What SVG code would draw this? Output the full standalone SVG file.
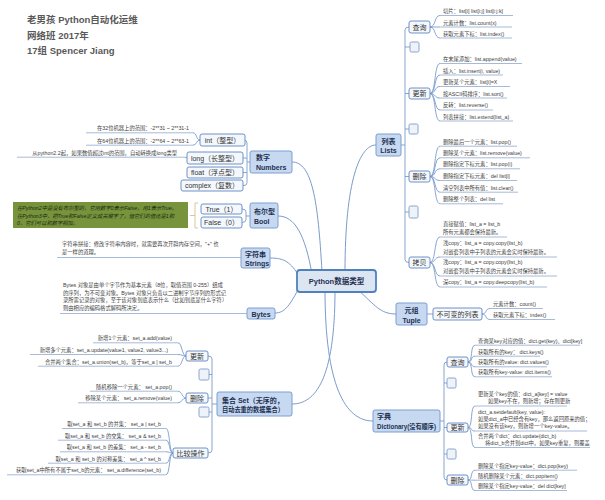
<svg xmlns="http://www.w3.org/2000/svg" width="605" height="500" viewBox="0 0 605 500">
<style>
text{font-family:"Liberation Sans","Noto Sans CJK SC",sans-serif}
.ttl{font-size:9.5px;font-weight:bold;fill:#595959}
.lf{font-size:5.3px;fill:#404040}
.ul{stroke:#8fa9d0;stroke-width:0.8;fill:none}
.cn{stroke:#7b9bcb;stroke-width:0.9;fill:none}
.mc{stroke:#7b9bcb;stroke-width:1;fill:none}
.mr{fill:#c6d9f0;stroke:#7d9fd0;stroke-width:1}
.mt{font-size:7px;font-weight:bold;fill:#1f3050}
.sr{fill:#f4f8fd;stroke:#5f87c2;stroke-width:0.9}
.st{font-size:7px;fill:#333}
.er{fill:#eef3fa;stroke:#7f9cc6;stroke-width:0.9}
.gt{font-size:5.3px;font-style:italic;fill:#1a2a10}
</style>

<g id="title">
<text class="ttl" x="27" y="23">老男孩 Python自动化运维</text>
<text class="ttl" x="27" y="38.5">网络班  2017年</text>
<text class="ttl" x="27" y="54">17组 Spencer Jiang</text>
</g>

<g id="connectors">
<path class="mc" d="M322,272 C318,200 312,162 292,162"/>
<path class="mc" d="M312,274 C305,235 295,216 278,216"/>
<path class="mc" d="M300,277 C290,262 285,258 270,258"/>
<path class="mc" d="M300,286 C290,305 285,313 275,313"/>
<path class="mc" d="M335,290 C335,380 315,404 292,404"/>
<path class="mc" d="M345,272 C345,180 360,145 376,145"/>
<path class="mc" d="M358,290 C375,305 380,314 396,314"/>
<path class="mc" d="M325,290 C325,385 345,421 373,421"/>
<path class="cn" d="M250,162 H247 M245,140 H244 Q247,140 247,143 V182.5 Q247,185.5 244,185.5 H243 M247,158 H243 M247,172.5 H243"/>
<path class="cn" d="M250,216 H246 M242,209 Q246,209 246,212 V219.5 Q246,222.5 242,222.5"/>
<path class="cn" d="M217,404 H212 M208,356 Q212,356 212,359 V450 Q212,453 208,453 M212,374.5 H209 M212,398 H208 M212,412 H209"/>
<path class="cn" d="M401,145 H405 M409,27 Q405,27 405,30 V259.5 Q405,262.5 409,262.5 M405,47 H410 M405,93.5 H409 M405,129 H409 M405,176.5 H409 M405,212 H409"/>
<path class="cn" d="M440,421 H444 M447,362 Q444,362 444,365 V477 Q444,480 447,480 M444,383 H447 M444,427.5 H447 M444,454 H447"/>
<path class="cn" d="M427,314 H433"/>
<path class="cn" d="M200,140 C196,140 197,132.8 193,132.8 M200,140 C196,140 197,145.2 193,145.2 M187,158 C186,158 186,157.2 185,157.2"/>
<path class="cn" d="M186,356 C182,356 182,342.8 178,342.8 M186,356 C182,356 182,354.5 178,354.5 M186,356 C182,356 182,366.2 178,366.2"/>
<path class="cn" d="M186,398 C182,398 182,391.2 178,391.2 M186,398 C182,398 182,402.8 178,402.8"/>
<path class="cn" d="M173,453 C169,453 170,428.5 166,428.5 M173,453 C169,453 170,440.2 166,440.2 M173,453 C169,453 170,451.8 166,451.8 M173,453 C169,453 170,463.2 166,463.2 M173,453 C169,453 170,474.8 166,474.8"/>
<path class="cn" d="M430,27 C436,27 434,15.5 440,15.5 M430,27 H440 M430,27 C436,27 434,38 440,38"/>
<path class="cn" d="M430,93.5 C436,93.5 434,63.5 440,63.5 M430,93.5 C436,93.5 434,75 440,75 M430,93.5 C436,93.5 434,86.5 440,86.5 M430,93.5 C436,93.5 434,98 440,98 M430,93.5 C436,93.5 434,110 440,110 M430,93.5 C436,93.5 434,121 440,121"/>
<path class="cn" d="M430,176.5 C436,176.5 434,146.2 440,146.2 M430,176.5 C436,176.5 434,157.8 440,157.8 M430,176.5 C436,176.5 434,168.8 440,168.8 M430,176.5 C436,176.5 434,180.5 440,180.5 M430,176.5 C436,176.5 434,192.2 440,192.2 M430,176.5 C436,176.5 434,203.8 440,203.8"/>
<path class="cn" d="M430,262.5 C436,262.5 434,237 440,237 M430,262.5 C436,262.5 434,257 440,257 M430,262.5 C436,262.5 434,276 440,276 M430,262.5 C436,262.5 434,287 440,287"/>
<path class="cn" d="M482,314 C487,314 485,308.5 490,308.5 M482,314 C487,314 485,319.5 490,319.5"/>
<path class="cn" d="M468,362 C473,362 470,345.2 475,345.2 M468,362 C473,362 470,356.2 475,356.2 M468,362 C473,362 470,366.8 475,366.8 M468,362 C473,362 470,376.8 475,376.8"/>
<path class="cn" d="M468,427.5 C473,427.5 470,406 475,406 M468,427.5 C473,427.5 470,431 475,431 M468,427.5 C473,427.5 470,447.5 475,447.5"/>
<path class="cn" d="M468,480 C473,480 470,470.2 475,470.2 M468,480 C473,480 470,480.2 475,480.2 M468,480 C473,480 470,490.5 475,490.5"/>
<path d="M198,203 H195 V228 H198 M195,215.5 H190" stroke="#dcc59e" stroke-width="1" fill="none"/>
</g>

<g id="center">
<rect x="297" y="270" width="79" height="22" rx="3" fill="#dce6f2" stroke="#4f81bd" stroke-width="1.8"/>
<text x="336.5" y="284" text-anchor="middle" font-size="7.5" font-weight="bold" fill="#1f3050">Python数据类型</text>
</g>

<g id="numbers"><rect class="mr" x="250" y="151" width="42" height="22" rx="2"/><text class="mt" x="256" y="160">数字</text><text class="mt" x="256" y="170">Numbers</text></g>
<g id="bool"><rect class="mr" x="250" y="203" width="28" height="25" rx="2"/><text class="mt" x="254" y="214">布尔型</text><text class="mt" x="254" y="224">Bool</text></g>
<g id="strings"><rect class="mr" x="241" y="248" width="29" height="20" rx="2"/><text class="mt" x="245" y="257">字符串</text><text class="mt" x="245" y="266">Strings</text></g>
<g id="bytes"><rect class="mr" x="247" y="308" width="28" height="11" rx="2"/><text class="mt" x="261" y="316.5" text-anchor="middle">Bytes</text></g>
<g id="set"><rect class="mr" x="217" y="392" width="75" height="24" rx="2"/><text class="mt" x="222" y="402.5" font-size="6.3">集合 Set（无序的，</text><text class="mt" x="222" y="412" font-size="6.3" textLength="62" lengthAdjust="spacingAndGlyphs">自动去重的数据集合）</text></g>
<g id="lists"><rect class="mr" x="376" y="134" width="25" height="22" rx="2"/><text class="mt" x="388.5" y="144" text-anchor="middle">列表</text><text class="mt" x="388.5" y="153" text-anchor="middle">Lists</text></g>
<g id="tuple"><rect class="mr" x="396" y="303" width="31" height="22" rx="2"/><text class="mt" x="411.5" y="313" text-anchor="middle">元组</text><text class="mt" x="411.5" y="322.5" text-anchor="middle">Tuple</text></g>
<g id="dict"><rect class="mr" x="373" y="410" width="67" height="22" rx="2"/><text class="mt" x="377" y="419">字典</text><text class="mt" x="377" y="428.5" font-size="6.2" textLength="59" lengthAdjust="spacingAndGlyphs">Dictionary(没有顺序)</text></g>

<g id="int"><rect class="sr" x="200" y="134" width="45" height="12" rx="2"/><text class="st" x="222.5" y="142.5" text-anchor="middle">int（整型）</text></g>
<g id="long"><rect class="sr" x="187" y="152" width="56" height="12" rx="2"/><text class="st" x="215" y="160.5" text-anchor="middle">long（长整型）</text></g>
<g id="float"><rect class="sr" x="187" y="167" width="56" height="11" rx="2"/><text class="st" x="215" y="175" text-anchor="middle">float（浮点型）</text></g>
<g id="complex"><rect class="sr" x="181" y="180" width="62" height="11" rx="2"/><text class="st" x="212" y="188" text-anchor="middle">complex（复数）</text></g>
<g id="true"><rect class="sr" x="201" y="204" width="41" height="10" rx="2"/><text class="st" x="221.5" y="211.5" text-anchor="middle">True（1）</text></g>
<g id="false"><rect class="sr" x="201" y="217" width="41" height="11" rx="2"/><text class="st" x="221.5" y="225" text-anchor="middle">False（0）</text></g>
<g id="bool-note"><rect x="13" y="202" width="175" height="26" fill="#77933c"/>
<text class="gt" x="17" y="210">在Python2中是没有布尔型的，它用数字0表示False，用1表示True。</text>
<text class="gt" x="17" y="217.5">在Python3中，把True和False定义成关键字了，但它们的值还是1和</text>
<text class="gt" x="17" y="225">0，它们可以和数字相加。</text></g>

<g id="set-update"><rect class="sr" x="186" y="351" width="22" height="10" rx="2"/><text class="st" x="197" y="358.5" text-anchor="middle">更新</text></g>
<g id="set-empty1"><rect class="er" x="199" y="369" width="10" height="11" rx="1.5"/></g>
<g id="set-delete"><rect class="sr" x="186" y="393" width="22" height="10" rx="2"/><text class="st" x="197" y="400.5" text-anchor="middle">删除</text></g>
<g id="set-empty2"><rect class="er" x="199" y="407" width="10" height="10" rx="1.5"/></g>
<g id="set-compare"><rect class="sr" x="173" y="448" width="35" height="10" rx="2"/><text class="st" x="190.5" y="455.5" text-anchor="middle">比较操作</text></g>

<g id="list-query"><rect class="sr" x="409" y="21" width="21" height="12" rx="2"/><text class="st" x="419.5" y="29.5" text-anchor="middle">查询</text></g>
<g id="list-empty1"><rect class="er" x="410" y="42" width="9" height="10" rx="1.5"/></g>
<g id="list-update"><rect class="sr" x="409" y="88" width="21" height="11" rx="2"/><text class="st" x="419.5" y="96" text-anchor="middle">更新</text></g>
<g id="list-empty2"><rect class="er" x="409" y="124" width="9" height="10" rx="1.5"/></g>
<g id="list-delete"><rect class="sr" x="409" y="171" width="21" height="11" rx="2"/><text class="st" x="419.5" y="179" text-anchor="middle">删除</text></g>
<g id="list-empty3"><rect class="er" x="409" y="206" width="9" height="12" rx="1.5"/></g>
<g id="list-copy"><rect class="sr" x="409" y="257" width="21" height="11" rx="2"/><text class="st" x="419.5" y="265" text-anchor="middle">拷贝</text></g>

<g id="tuple-immutable"><rect class="sr" x="433" y="308" width="49" height="12" rx="2"/><text class="st" x="457.5" y="316.5" text-anchor="middle">不可变的列表</text></g>

<g id="dict-query"><rect class="sr" x="447" y="357" width="21" height="10" rx="2"/><text class="st" x="457.5" y="364.5" text-anchor="middle">查询</text></g>
<g id="dict-empty1"><rect class="er" x="447" y="378" width="9" height="10" rx="1.5"/></g>
<g id="dict-update"><rect class="sr" x="447" y="423" width="21" height="9" rx="2"/><text class="st" x="457.5" y="430" text-anchor="middle">更新</text></g>
<g id="dict-empty2"><rect class="er" x="447" y="449" width="9" height="10" rx="1.5"/></g>
<g id="dict-delete"><rect class="sr" x="447" y="475" width="21" height="10" rx="2"/><text class="st" x="457.5" y="482.5" text-anchor="middle">删除</text></g>

<g id="leaf-n1"><text class="lf" x="189" y="130.3" text-anchor="end">在32位机器上的范围：-2**31 ~ 2**31-1</text><path class="ul" d="M86,132.8 H193"/></g>
<g id="leaf-n2"><text class="lf" x="189" y="142.7" text-anchor="end">在64位机器上的范围：-2**64 ~ 2**63-1</text><path class="ul" d="M86,145.2 H193"/></g>
<g id="leaf-n3"><text class="lf" x="177" y="154.7" text-anchor="end">从python2.2起，如果数值超过int的范围，自动转换成long类型</text><path class="ul" d="M17,157.2 H185"/></g>
<g id="leaf-str"><text class="lf" x="62" y="246">字符串拼接：修改字符串内容时，就需要再次开辟内存空间，"+" 也</text><text class="lf" x="62" y="254">是一样的道理。</text><path class="ul" d="M57,257.5 H241"/></g>
<g id="leaf-bytes"><text class="lf" x="63" y="287">Bytes 对象是由单个字节作为基本元素（8位，取值范围 0-255）组成</text><text class="lf" x="63" y="294.5">的序列，为不可变对象。Bytes 对象只负责以二进制字节序列的形式记</text><text class="lf" x="63" y="302">录所需记录的对象，至于该对象到底表示什么（比如到底是什么字符）</text><text class="lf" x="63" y="309.5">则由相应的编码格式解码所决定。</text><path class="ul" d="M60,313.5 H247"/></g>
<g id="leaf-s1"><text class="lf" x="172" y="340.3" text-anchor="end">新增1个元素：set_a.add(value)</text><path class="ul" d="M93,342.8 H178"/></g>
<g id="leaf-s2"><text class="lf" x="168" y="352" text-anchor="end">新增多个元素：set_a.update(value1, value2, value3...)</text><path class="ul" d="M30,354.5 H178"/></g>
<g id="leaf-s3"><text class="lf" x="172" y="363.7" text-anchor="end">合并两个集合：set_a.union(set_b)，等于set_a | set_b</text><path class="ul" d="M38,366.2 H178"/></g>
<g id="leaf-s4"><text class="lf" x="172" y="388.7" text-anchor="end">随机移除一个元素： set_a.pop()</text><path class="ul" d="M90,391.2 H178"/></g>
<g id="leaf-s5"><text class="lf" x="172" y="400.3" text-anchor="end">移除某个元素： set_a.remove(value)</text><path class="ul" d="M78,402.8 H178"/></g>
<g id="leaf-c1"><text class="lf" x="161" y="426" text-anchor="end">取set_a 和 set_b 的并集： set_a | set_b</text><path class="ul" d="M62,428.5 H166"/></g>
<g id="leaf-c2"><text class="lf" x="161" y="437.7" text-anchor="end">取set_a 和 set_b 的交集： set_a &amp; set_b</text><path class="ul" d="M58,440.2 H166"/></g>
<g id="leaf-c3"><text class="lf" x="161" y="449.3" text-anchor="end">取set_a 和 set_b 的差集： set_a - set_b</text><path class="ul" d="M60,451.8 H166"/></g>
<g id="leaf-c4"><text class="lf" x="161" y="460.7" text-anchor="end">取set_a 和 set_b 的对称差集： set_a ^ set_b</text><path class="ul" d="M48,463.2 H166"/></g>
<g id="leaf-c5"><text class="lf" x="161" y="472.3" text-anchor="end">获取set_a中所有不属于set_b的元素： set_a.difference(set_b)</text><path class="ul" d="M7,474.8 H166"/></g>
<g id="leaf-q1"><text class="lf" x="443" y="13">切片：list[i]  list[i:j]  list[i:j:k]</text><path class="ul" d="M440,15.5 H513"/></g>
<g id="leaf-q2"><text class="lf" x="443" y="24.5">元素计数：list.count(x)</text><path class="ul" d="M440,27 H512"/></g>
<g id="leaf-q3"><text class="lf" x="443" y="35.5">获取元素下标：list.index()</text><path class="ul" d="M440,38 H512"/></g>
<g id="leaf-u1"><text class="lf" x="443" y="61">在末尾添加：list.append(value)</text><path class="ul" d="M440,63.5 H522"/></g>
<g id="leaf-u2"><text class="lf" x="443" y="72.7">插入：list.insert(i, value)</text><path class="ul" d="M440,75 H503"/></g>
<g id="leaf-u3"><text class="lf" x="443" y="84">更新某个元素：list[i]=X</text><path class="ul" d="M440,86.5 H510"/></g>
<g id="leaf-u4"><text class="lf" x="443" y="95.7">按ASCII码排序：list.sort()</text><path class="ul" d="M440,98 H507"/></g>
<g id="leaf-u5"><text class="lf" x="443" y="107.3">反转：list.reverse()</text><path class="ul" d="M440,110 H493"/></g>
<g id="leaf-u6"><text class="lf" x="443" y="118.7">列表拼接：list.extend(list_a)</text><path class="ul" d="M440,121 H513"/></g>
<g id="leaf-d1"><text class="lf" x="443" y="143.7">删除最后一个元素：list.pop()</text><path class="ul" d="M440,146.2 H517"/></g>
<g id="leaf-d2"><text class="lf" x="443" y="155.3">删除某个元素：list.remove(value)</text><path class="ul" d="M440,157.8 H530"/></g>
<g id="leaf-d3"><text class="lf" x="443" y="166.3">删除指定下标元素：list.pop(i)</text><path class="ul" d="M440,168.8 H520"/></g>
<g id="leaf-d4"><text class="lf" x="443" y="178">删除指定下标元素：del list[i]</text><path class="ul" d="M440,180.5 H517"/></g>
<g id="leaf-d5"><text class="lf" x="443" y="189.7">清空列表中所有值：list.clear()</text><path class="ul" d="M440,192.2 H518"/></g>
<g id="leaf-d6"><text class="lf" x="443" y="201.3">删除整个列表：del list</text><path class="ul" d="M440,203.8 H503"/></g>
<g id="leaf-k1"><text class="lf" x="443" y="226">直接赋值：list_a = list_b</text><text class="lf" x="443" y="234">所有元素都会保持最新。</text><path class="ul" d="M440,237 H507"/></g>
<g id="leaf-k2"><text class="lf" x="443" y="245.3">浅copy：list_a = copy.copy(list_b)</text><text class="lf" x="443" y="253.7">对嵌套列表中子列表的元素会实时保持最新。</text><path class="ul" d="M440,257 H557"/></g>
<g id="leaf-k3"><text class="lf" x="443" y="264.3">浅copy：list_a = copy.copy(list_b)</text><text class="lf" x="443" y="272.7">对嵌套列表中子列表的元素会实时保持最新。</text><path class="ul" d="M440,276 H557"/></g>
<g id="leaf-k4"><text class="lf" x="443" y="283.7">深copy：list_a = copy.deepcopy(list_b)</text><path class="ul" d="M440,287 H547"/></g>
<g id="leaf-t1"><text class="lf" x="493" y="306">元素计数：count()</text><path class="ul" d="M490,308.5 H543"/></g>
<g id="leaf-t2"><text class="lf" x="493" y="317">获取元素下标：index()</text><path class="ul" d="M490,319.5 H555"/></g>
<g id="leaf-dq1"><text class="lf" x="478" y="342.7">查询某key对应的值：dict.get(key)、dict[key]</text><path class="ul" d="M475,345.2 H580"/></g>
<g id="leaf-dq2"><text class="lf" x="478" y="353.7">获取所有的key： dict.keys()</text><path class="ul" d="M475,356.2 H540"/></g>
<g id="leaf-dq3"><text class="lf" x="478" y="364.3">获取所有的value: dict.values()</text><path class="ul" d="M475,366.8 H547"/></g>
<g id="leaf-dq4"><text class="lf" x="478" y="374.3">获取所有key-value: dict.items()</text><path class="ul" d="M475,376.8 H552"/></g>
<g id="leaf-du1"><text class="lf" x="478" y="396">更新某个key的值：dict_a[key] = value</text><text class="lf" x="488" y="403">如果key不在，则新增；存在则更新</text><path class="ul" d="M475,406 H567"/></g>
<g id="leaf-du2"><text class="lf" x="478" y="413.7">dict_a.setdefault(key, value):</text><text class="lf" x="478" y="421">如果dict_a中已经含有key，那么返回原来的值；</text><text class="lf" x="478" y="428">如果没有该key，则新增一个key-value。</text><path class="ul" d="M475,431 H587"/></g>
<g id="leaf-du3"><text class="lf" x="478" y="438">合并两个dict：dict.update(dict_b)</text><text class="lf" x="485" y="444.7">将dict_b合并到dict中，如果key重复，则覆盖</text><path class="ul" d="M475,447.5 H590"/></g>
<g id="leaf-dd1"><text class="lf" x="478" y="467.7">删除某个指定key-value：dict.pop(key)</text><path class="ul" d="M475,470.2 H577"/></g>
<g id="leaf-dd2"><text class="lf" x="478" y="477.7">随机删除某个元素：dict.popitem()</text><path class="ul" d="M475,480.2 H557"/></g>
<g id="leaf-dd3"><text class="lf" x="478" y="488">删除某个指定key-value：del dict[key]</text><path class="ul" d="M475,490.5 H567"/></g>
</svg>
